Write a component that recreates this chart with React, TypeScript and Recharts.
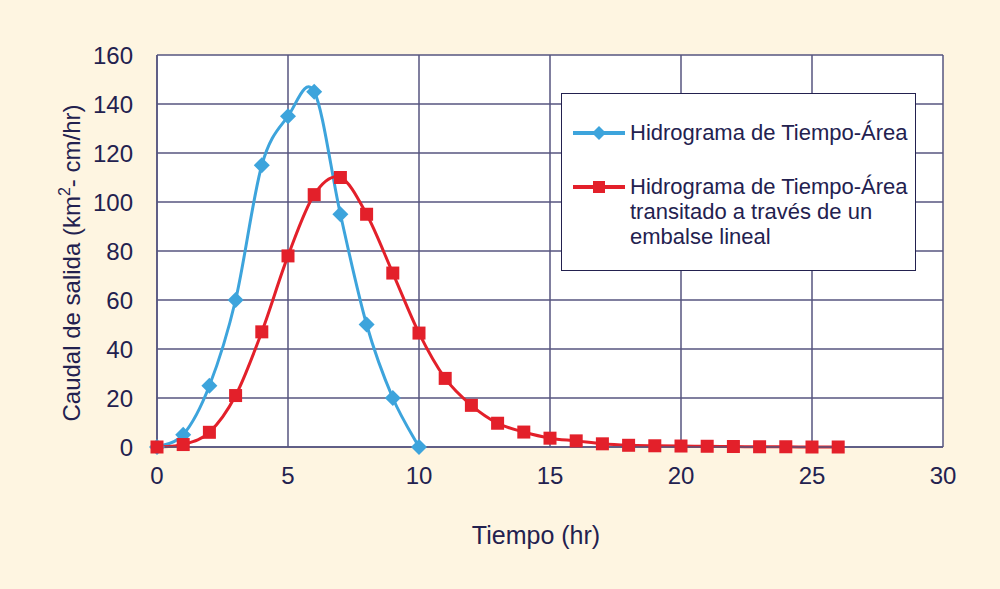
import React from 'react';
import { LineChart, Line, XAxis, YAxis, CartesianGrid, Legend } from 'recharts';

// time (hr)
const tiempo = [0, 1, 2, 3, 4, 5, 6, 7, 8, 9, 10, 11, 12, 13, 14, 15, 16, 17, 18, 19, 20, 21, 22, 23, 24, 25, 26];
// time-area hydrograph (ends at 10 hr)
const tiempoArea = [0, 5, 25, 60, 115, 135, 145, 95, 50, 20, 0];
// routed through a linear reservoir
const transitado = [0, 1, 6, 21, 47, 78, 103, 110, 95, 71, 46.5, 28, 17, 9.7, 6.1, 3.6, 2.5, 1.3, 0.7, 0.5, 0.4, 0.3, 0.2, 0.1, 0.1, 0, 0];

const xTicks = [0, 5, 10, 15, 20, 25, 30];
const yTicks = [0, 20, 40, 60, 80, 100, 120, 140, 160];

const BLUE = '#3DA4DC';
const RED = '#E3202A';
const NAVY = '#23214F';
const GRID = '#56547F';
const BG = '#FEF5E1';
const FONT = '"Liberation Sans", Arial, Helvetica, sans-serif';

const data = tiempo.map((t, i) => ({
  t,
  area: i < tiempoArea.length ? tiempoArea[i] : undefined,
  routed: transitado[i],
}));

// Excel-like smoothed line (Catmull-Rom through every point)
const smoothCurve: any = (context: any) => {
  let pts: number[][] = [];
  return {
    areaStart() {},
    areaEnd() {},
    lineStart() {
      pts = [];
    },
    point(x: number, y: number) {
      pts.push([+x, +y]);
    },
    lineEnd() {
      if (!pts.length) return;
      context.moveTo(pts[0][0], pts[0][1]);
      for (let i = 0; i < pts.length - 1; i++) {
        const p0 = pts[i - 1] || pts[i];
        const p1 = pts[i];
        const p2 = pts[i + 1];
        const p3 = pts[i + 2] || p2;
        context.bezierCurveTo(
          p1[0] + (p2[0] - p0[0]) / 6,
          p1[1] + (p2[1] - p0[1]) / 6,
          p2[0] - (p3[0] - p1[0]) / 6,
          p2[1] - (p3[1] - p1[1]) / 6,
          p2[0],
          p2[1]
        );
      }
    },
  };
};

const Diamond = (props: any) => {
  const { cx, cy, index } = props;
  if (cx == null || cy == null || props.value == null) return <g key={`d-${index}`} />;
  const r = 8;
  return (
    <path
      key={`d-${index}`}
      d={`M${cx},${cy - r}L${cx + r},${cy}L${cx},${cy + r}L${cx - r},${cy}Z`}
      fill={BLUE}
    />
  );
};

const Square = (props: any) => {
  const { cx, cy, index } = props;
  if (cx == null || cy == null) return <g key={`s-${index}`} />;
  const h = 6.5;
  return <rect key={`s-${index}`} x={cx - h} y={cy - h} width={h * 2} height={h * 2} fill={RED} />;
};

const LegendBox = () => (
  <div
    style={{
      width: 355,
      height: 178,
      boxSizing: 'border-box',
      background: '#fff',
      border: `1.5px solid ${NAVY}`,
      fontFamily: FONT,
      fontSize: 22,
      color: NAVY,
      position: 'relative',
    }}
  >
    <svg width={60} height={20} style={{ position: 'absolute', left: 9, top: 29 }}>
      <line x1={2} y1={10} x2={54} y2={10} stroke={BLUE} strokeWidth={4} />
      <path d="M28,3L35,10L28,17L21,10Z" fill={BLUE} />
    </svg>
    <div style={{ position: 'absolute', left: 68, top: 26, lineHeight: '25px', whiteSpace: 'nowrap' }}>
      Hidrograma de Tiempo-Área
    </div>
    <svg width={60} height={20} style={{ position: 'absolute', left: 9, top: 83 }}>
      <line x1={2} y1={10} x2={54} y2={10} stroke={RED} strokeWidth={4} />
      <rect x={22} y={4} width={12} height={12} fill={RED} />
    </svg>
    <div style={{ position: 'absolute', left: 68, top: 80, lineHeight: '25px', whiteSpace: 'nowrap' }}>
      Hidrograma de Tiempo-Área
      <br />
      transitado a través de un
      <br />
      embalse lineal
    </div>
  </div>
);

const XTitle = (props: any) => {
  const { viewBox } = props;
  const cx = viewBox.x + viewBox.width / 2 - 14;
  return (
    <text x={cx} y={viewBox.y + 97} textAnchor="middle" fill={NAVY} fontSize={25} fontFamily={FONT}>
      Tiempo (hr)
    </text>
  );
};

const YTitle = (props: any) => {
  const { viewBox } = props;
  const cy = viewBox.y + viewBox.height / 2 + 12;
  const x = 80;
  return (
    <text
      x={x}
      y={cy}
      transform={`rotate(-90, ${x}, ${cy})`}
      textAnchor="middle"
      fill={NAVY}
      fontSize={24}
      fontFamily={FONT}
    >
      Caudal de salida (km
      <tspan dy={-10} fontSize={16}>2</tspan>
      <tspan dy={10}>- cm/hr)</tspan>
    </text>
  );
};

const App: React.FC = () => {
  return (
    <div style={{ width: 1000, height: 589, background: BG }}>
      <style>{`body { margin: 0; }`}</style>
      <LineChart width={1000} height={589} data={data} margin={{ top: 55, right: 57, bottom: 112, left: 97 }}>
        <CartesianGrid stroke={GRID} strokeWidth={1.5} fill="#ffffff" />
        <XAxis
          dataKey="t"
          type="number"
          domain={[0, 30]}
          ticks={xTicks}
          height={30}
          tickLine={false}
          axisLine={{ stroke: GRID, strokeWidth: 1.5 }}
          tick={{ fill: NAVY, fontSize: 24, fontFamily: FONT }}
          tickMargin={14}
          label={<XTitle />}
        />
        <YAxis
          type="number"
          domain={[0, 160]}
          ticks={yTicks}
          width={60}
          tickLine={false}
          axisLine={{ stroke: GRID, strokeWidth: 1.5 }}
          tick={{ fill: NAVY, fontSize: 24, fontFamily: FONT }}
          tickMargin={18}
          label={<YTitle />}
        />
        <Legend
          layout="horizontal"
          verticalAlign="middle"
          align="center"
          content={<LegendBox />}
          wrapperStyle={{ position: 'absolute', left: 561, top: 93, width: 355, height: 178 }}
        />
        <Line
          dataKey="area"
          name="Hidrograma de Tiempo-Área"
          type={smoothCurve}
          stroke={BLUE}
          strokeWidth={3}
          dot={Diamond}
          activeDot={false}
          isAnimationActive={false}
        />
        <Line
          dataKey="routed"
          name="Hidrograma de Tiempo-Área transitado a través de un embalse lineal"
          type={smoothCurve}
          stroke={RED}
          strokeWidth={3}
          dot={Square}
          activeDot={false}
          isAnimationActive={false}
        />
      </LineChart>
    </div>
  );
};

export default App;
